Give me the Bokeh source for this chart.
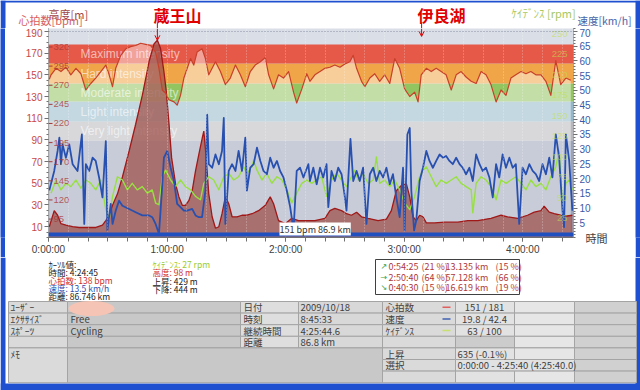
import numpy as np
from bokeh.plotting import figure
from bokeh.models import Range1d, LinearAxis, FixedTicker, Label, Arrow, OpenHead, BoxAnnotation
from bokeh.layouts import column, row
from bokeh.embed import file_html
from bokeh.resources import INLINE
from bokeh.core.properties import value

# ---------------- data ----------------
total_min = 265 + 40 / 60          # 4:25:40

hr_t = [0.4, 1.3, 3.8, 6.3, 8.8, 11.3, 13.9, 16.4, 18.9, 21.4, 23.9, 26.5, 29.0, 30.7, 32.4, 34.0, 36.6, 39.1, 41.6, 44.1,
        46.6, 49.2, 51.7, 54.2, 55.9, 57.6, 59.3, 60.9, 63.5, 65.1, 66.8, 68.5, 70.2, 71.9, 73.5, 75.2, 77.7, 79.4, 81.1, 82.8,
        84.5, 87.0, 89.5, 92.0, 94.6, 97.1, 99.6, 102.1, 104.6, 107.2, 109.7, 111.4, 113.9, 116.4, 118.9, 121.5, 124.0, 125.6,
        128.2, 130.7, 132.3, 134.8, 137.4, 139.9, 142.4, 144.9, 147.5, 150.0, 152.5, 154.2, 155.9, 158.4, 160.1, 162.6, 165.1,
        167.6, 170.1, 172.7, 175.2, 177.7, 180.2, 182.8, 185.3, 187.0, 188.6, 191.2, 193.7, 196.2, 198.7, 201.2, 203.8, 206.3,
        208.8, 211.3, 213.9, 216.4, 218.9, 221.4, 223.9, 226.5, 229.0, 231.5, 234.0, 236.5, 239.1, 241.6, 244.1, 246.6, 249.2,
        251.7, 254.2, 256.7, 259.2, 261.8, 264.3]
hr_bpm = [146, 150, 156, 153, 157, 150, 156, 151, 136, 142, 147, 153, 159, 150, 139, 156, 168, 174, 176, 177,
          179, 178, 177, 171, 156, 136, 133, 127, 125, 122, 131, 147, 156, 165, 159, 171, 174, 165, 150, 156,
          162, 153, 141, 147, 159, 150, 139, 153, 159, 162, 166, 150, 137, 150, 147, 153, 134, 124, 137, 151,
          144, 150, 153, 156, 157, 159, 157, 160, 162, 168, 156, 144, 139, 147, 151, 144, 150, 142, 165, 156,
          137, 130, 134, 125, 150, 156, 153, 156, 153, 150, 136, 150, 153, 148, 144, 142, 153, 150, 141, 125,
          136, 131, 147, 150, 153, 151, 153, 150, 150, 144, 131, 163, 141, 147, 145]

alt_t = [0.4, 2.9, 4.6, 6.3, 8.8, 12.2, 15.5, 18.9, 24.0, 27.3, 29.0, 30.7, 32.4, 34.9, 37.4, 40.8, 44.1, 47.5, 50.9, 53.4,
         55.1, 56.7, 58.4, 59.6, 61.0, 62.3, 64.3, 66.0, 67.7, 69.3, 71.0, 72.7, 74.4, 76.1, 77.8, 78.6, 79.8, 81.1, 82.8,
         84.5, 86.2, 87.8, 89.5, 91.2, 92.9, 95.4, 97.9, 100.4, 103.0, 106.3, 109.7, 112.2, 113.9, 116.4, 119.8, 123.1,
         126.5, 129.9, 134.8, 139.9, 142.4, 144.9, 148.3, 150.8, 153.3, 155.9, 158.4, 161.7, 166.8, 171.0, 173.5, 176.0,
         178.6, 181.1, 182.8, 184.4, 186.1, 187.8, 189.5, 191.2, 195.4, 200.4, 207.1, 212.2, 217.2, 223.9, 229.0, 232.3,
         237.4, 242.4, 245.8, 249.2, 250.8, 253.4, 255.9, 259.2, 262.6, 265.1]
alt_m = [85, 106, 100, 89, 87, 85, 84, 84, 84, 87, 93, 100, 113, 128, 150, 184, 219, 257, 301, 324,
         329, 318, 288, 262, 219, 175, 141, 124, 113, 113, 119, 132, 158, 180, 201, 210, 175, 128, 98, 83,
         85, 102, 124, 115, 98, 98, 100, 100, 102, 106, 113, 124, 115, 93, 89, 96, 93, 93, 93, 96,
         106, 109, 106, 102, 100, 104, 98, 96, 93, 95, 106, 132, 139, 141, 124, 98, 93, 100, 98, 90,
         90, 91, 91, 93, 93, 96, 100, 98, 96, 100, 104, 106, 112, 104, 102, 100, 99, 100]

spd_t = [0.4, 2.9, 4.6, 5.5, 6.3, 7.1, 8.8, 10.5, 12.2, 14.7, 16.9, 18.1, 18.9, 20.6, 22.3, 23.9, 25.6, 27.3, 29.0, 29.8,
         31.5, 32.4, 34.0, 35.7, 37.4, 40.8, 44.1, 47.5, 50.9, 52.5, 54.2, 55.9, 56.7, 57.6, 58.4, 60.1, 61.8, 63.5, 65.1, 66.8,
         68.5, 70.2, 72.7, 74.4, 76.1, 77.7, 79.4, 80.3, 81.1, 82.8, 84.5, 86.2, 87.8, 88.7, 89.5, 91.2, 92.9, 94.6, 96.2, 97.9,
         99.6, 100.4, 102.1, 103.8, 105.5, 107.2, 108.8, 110.5, 112.2, 113.9, 115.6, 117.2, 118.9, 120.6, 122.3, 124.0, 125.6,
         127.3, 129.0, 131.5, 132.3, 134.0, 135.7, 137.4, 139.0, 140.7, 141.6, 143.2, 144.9, 146.6, 148.3, 150.0, 150.8, 152.8,
         154.2, 155.9, 157.5, 159.2, 160.9, 162.6, 164.3, 165.9, 167.6, 169.3, 171.0, 172.7, 174.3, 176.0, 177.7, 179.4, 180.2,
         181.6, 182.8, 183.6, 185.0, 186.1, 187.8, 189.5, 191.2, 192.8, 194.5, 196.2, 197.9, 199.6, 201.2, 202.9, 204.6, 206.3,
         208.0, 209.6, 211.3, 213.0, 214.7, 216.4, 218.1, 219.7, 221.4, 223.1, 224.8, 226.5, 228.1, 229.8, 231.5, 233.2, 234.9,
         236.5, 238.2, 239.9, 241.6, 243.3, 245.0, 246.6, 248.3, 250.0, 251.7, 253.4, 255.0, 256.7, 258.4, 260.1, 260.9, 261.8,
         263.5, 265.1]
spd_kmh = [16, 22.6, 29.4, 33.9, 24.9, 31.6, 27.1, 31.6, 24.9, 22.6, 35, 4.6, 24.9, 22.6, 27.1, 26, 20.4, 13.6, 32.7, 2.4,
           11.4, 4.6, 9.1, 12.5, 10.8, 9.7, 8.6, 7.5, 7.5, 6.9, 4.6, 1.3, 9.1, 18.1, 27.1, 29.4, 23.7, 19.2, 11.4, 10.3,
           9.1, 9.1, 9.7, 7.5, 6.9, 6.9, 15.9, 41.7, 24.9, 23.7, 28.2, 24.9, 29.4, 40.6, 4.6, 22.6, 24.9, 22.6, 29.4, 22.6,
           33.9, 15.9, 23.7, 24.9, 30.5, 26, 22.6, 21.5, 27.1, 23.7, 26, 22.6, 20.4, 15.9, 10.3, 2.4, 22.6, 23.7, 20.4, 24.9,
           19.2, 23.7, 18.1, 23.7, 20.4, 24.9, 10.3, 22.6, 19.2, 23.7, 21.5, 13.6, 9.1, 33.5, 19.2, 22.6, 19.2, 23.7, 4.6, 21.5,
           23.7, 19.2, 22.6, 20.4, 23.7, 18.1, 21.5, 13.6, 6.9, 23.7, 2.4, 35, 37.2, 15.9, 2.4, 5.8, 19.2, 23.7, 29.4, 26,
           23.7, 26, 28.2, 27.1, 27.7, 26, 24.9, 27.1, 24.9, 23.7, 21.5, 23.7, 19.2, 28.2, 24.9, 22.6, 23.7, 20.4, 13.6, 24.9,
           20.4, 28.2, 23.7, 27.1, 23.7, 24.9, 4.6, 23.7, 21.5, 24.9, 22.6, 21.5, 19.2, 24.9, 21.5, 27.1, 20.4, 35, 27.1, 9.1,
           3.5, 35, 26, 9.1]

cad_t = [1.3, 3.8, 6.3, 8.8, 11.3, 13.9, 16.4, 18.9, 21.4, 23.9, 26.5, 29.0, 30.7, 32.4, 34.9, 37.4, 39.9, 42.4, 44.9, 47.5,
         50.0, 52.5, 54.2, 55.9, 57.6, 59.3, 61.8, 64.3, 66.8, 69.3, 71.9, 74.4, 76.9, 78.6, 81.1, 83.6, 86.2, 88.7, 91.2, 93.7,
         96.2, 98.8, 100.4, 103.0, 103.8, 105.5, 108.0, 110.5, 113.0, 115.6, 118.1, 120.6, 123.1, 125.6, 128.2, 130.7, 133.2,
         135.7, 138.2, 140.7, 143.2, 145.8, 148.3, 150.8, 153.3, 155.0, 156.7, 159.2, 161.7, 164.3, 165.9, 167.6, 170.1, 172.7,
         175.2, 177.7, 180.2, 182.8, 185.3, 187.8, 189.5, 191.2, 193.7, 196.2, 198.7, 201.2, 203.8, 206.3, 208.8, 211.3, 213.9,
         214.7, 216.4, 218.9, 221.4, 223.9, 226.5, 229.0, 231.5, 234.0, 236.5, 239.1, 241.6, 244.1, 246.6, 249.2, 251.7, 254.2,
         256.7, 258.4, 260.1, 261.8, 263.5, 265.1]
cad_rpm = [54, 70, 58, 66, 62, 70, 60, 70, 66, 58, 70, 34, 22, 50, 74, 70, 58, 66, 58, 62,
           54, 58, 42, 40, 74, 82, 70, 62, 70, 62, 58, 50, 46, 66, 74, 70, 58, 74, 78, 70,
           74, 86, 78, 86, 94, 82, 70, 78, 66, 74, 70, 58, 42, 54, 66, 70, 66, 70, 74, 50,
           70, 78, 70, 62, 74, 82, 70, 78, 66, 70, 98, 66, 70, 62, 70, 58, 42, 34, 50, 74,
           82, 86, 74, 62, 70, 66, 70, 74, 66, 62, 58, 30, 66, 74, 70, 62, 46, 70, 66, 70,
           74, 66, 58, 70, 62, 66, 58, 74, 86, 106, 42, 66, 70, 58]

hr_ticks = list(range(10, 191, 20))
spd_ticks = list(range(5, 71, 5))
alt_ticks = list(range(95, 321, 25))
cad_ticks = list(range(25, 251, 25))
time_ticks = [0, 60, 120, 180, 240]
time_labels = ["0:00:00", "1:00:00", "2:00:00", "3:00:00", "4:00:00"]

zone_bounds = [89, 107, 125, 142, 160, 178]
zone_names = ["Very light intensity", "Light intensity", "Moderate intensity", "Hard intensity", "Maximum intensity"]
band_colors = ["#9CA3B8", "#B8B8BC", "#94B8CA", "#92C460", "#F0A548", "#E65848"]

landmarks = ["蔵王山", "伊良湖"]
irago_t = 188.8

cursor_left = [("ｶｰｿﾙ値:", "#202020"), ("時間: 4:24:45", "#202020"), ("心拍数: 138 bpm", "#D03030"),
               ("速度: 13.5 km/h", "#3050B0"), ("距離: 86.746 km", "#202020")]
cursor_right = [("ｹｲﾃﾞﾝｽ: 27 rpm", "#98CC30"), ("高度: 98 m", "#D03030"), ("上昇: 429 m", "#202020"),
                ("下降: 444 m", "#202020")]
split_arrows = ["↗", "→", "↘"]
split_times = ["0:54:25", "2:50:40", "0:40:30"]
split_tpct = ["(21 %)", "(64 %)", "(15 %)"]
split_dist = ["13.135 km", "57.128 km", "16.619 km"]
split_dpct = ["(15 %)", "(66 %)", "(19 %)"]

left_labels = ["ﾕｰｻﾞｰ", "ｴｸｻｻｲｽﾞ", "ｽﾎﾟｰﾂ", ""]
left_values = ["", "Free", "Cycling", ""]
mid_labels = ["日付", "時刻", "継続時間", "距離"]
mid_values = ["2009/10/18", "8:45:33", "4:25:44.6", "86.8 km"]
right_labels = ["心拍数", "速度", "ｹｲﾃﾞﾝｽ", "", "上昇", "選択"]
right_values = ["151 / 181", "19.8 / 42.4", "63 / 100", "", "635 (-0.1%)", "0:00:00 - 4:25:40 (4:25:40.0)"]
legend_colors = ["#E06060", "#4060B0", "#C8E070"]

JP = "Noto Sans CJK JP"
LAT = "Liberation Sans"
BLUE = "#1E50D0"

# geometry of the chart frame on the page
FL, FR, FT, FB = 48, 573, 28, 239
MB = 257   # bottom of the chart figure


def page_x(t):
    return FL + t * (FR - FL) / total_min


def deco(w, h, y0, y1):
    f = figure(width=w, height=h, x_range=Range1d(0, w), y_range=Range1d(y1, y0), output_backend="svg",
               toolbar_location=None, min_border=0, x_axis_type=None, y_axis_type=None)
    f.grid.visible = False
    f.outline_line_color = None
    f.background_fill_color = "white"
    f.border_fill_color = "white"
    return f


def txt(f, x, y, s, color, size="9px", align="left", bold=False, font=JP):
    f.text(x=[x], y=[y], text=[s], text_color=color, text_font_size=size, text_align=align,
           text_baseline="middle", text_font=value(font), text_font_style="bold" if bold else "normal")


# ---------------- top strip ----------------
T = deco(640, FT, 0, FT)
T.quad(left=[0, 0, 635], right=[640, 5, 640], top=[0, 0, 0], bottom=[2, FT, FT], fill_color=BLUE, line_color=None)
txt(T, 48, 13, "高度[m]", "#A04848", size="11px")
txt(T, 18, 19.5, "心拍数[bpm]", "#D86060", size="11px")
txt(T, 511, 12.5, "ｹｲﾃﾞﾝｽ [rpm]", "#A8C860", size="11px")
txt(T, 577, 19.5, "速度[km/h]", "#4A64A8", size="10.5px")
t_peak = alt_t[int(np.argmax(alt_m))]
txt(T, 177, 14, landmarks[0], "#E00000", size="16px", align="center", bold=True)
txt(T, 441, 14, landmarks[1], "#E00000", size="16px", align="center", bold=True)
T.segment(x0=[page_x(t_peak), page_x(irago_t)], x1=[page_x(t_peak), page_x(irago_t)], y0=[22, 22], y1=[FT, FT],
          line_color="#E00000", line_width=1)

# ---------------- main chart ----------------
M = figure(width=630, height=MB - FT, x_range=Range1d(0, total_min), y_range=Range1d(0, 192.7),
           output_backend="svg", toolbar_location=None,
           min_border_left=FL - 5, min_border_right=635 - FR, min_border_top=0, min_border_bottom=MB - FB)
M.extra_y_ranges = {"spd": Range1d(0, 71.0), "alt": Range1d(70.9, 344.2), "cad": Range1d(0, 254.5)}
M.background_fill_color = "#D9DEE7"
M.border_fill_color = "white"
M.outline_line_color = None

bottoms = [0] + zone_bounds[:-1]
M.hstrip(y0=bottoms, y1=zone_bounds, fill_color=band_colors, line_color=None, level="underlay")

M.xgrid.ticker = FixedTicker(ticks=list(range(0, 266, 10)))
M.xgrid.grid_line_color = "white"
M.xgrid.grid_line_alpha = 0.45
M.xgrid.grid_line_dash = "1 2"
M.xgrid.level = "glyph"
M.ygrid.ticker = FixedTicker(ticks=[190])
M.ygrid.grid_line_color = "#8890A0"
M.ygrid.grid_line_dash = "1 2"
M.ygrid.level = "glyph"

M.varea(x=hr_t, y1=0, y2=hr_bpm, fill_color="white", fill_alpha=0.45)

mids = [(a + b) / 2 for a, b in zip(zone_bounds[:-1], zone_bounds[1:])]
M.text(x=[0] * len(mids), y=mids, text=zone_names, x_offset=32, text_color="white", text_alpha=0.6,
       text_font_size="12px", text_baseline="middle", text_font=value(LAT))

M.varea(x=alt_t, y1=0, y2=alt_m, y_range_name="alt", fill_color="#9D514B", fill_alpha=0.75)
M.line(alt_t, alt_m, y_range_name="alt", line_color="#A01818", line_width=1.3)
M.line(hr_t, hr_bpm, line_color="#C8402A", line_width=1.2, line_join="round")
M.line(cad_t, cad_rpm, y_range_name="cad", line_color="#98E040", line_width=1.4, line_join="round")
M.line(spd_t, spd_kmh, y_range_name="spd", line_color="#2850B0", line_width=1.8, line_join="round")

M.text(x=[0] * len(alt_ticks), y=alt_ticks, text=[str(v) for v in alt_ticks], x_offset=5, y_range_name="alt",
       text_color="#A83838", text_alpha=0.8, text_font_size="9.5px", text_baseline="middle", text_font=value(LAT))
M.ray(x=[0] * len(alt_ticks), y=alt_ticks, length=4, length_units="screen", angle=0, y_range_name="alt",
      line_color="#A83838", line_width=1)
M.text(x=[total_min] * len(cad_ticks), y=cad_ticks, text=[str(v) for v in cad_ticks], x_offset=-6, y_offset=1.5,
       y_range_name="cad", text_align="right", text_color="#C0E050", text_alpha=0.6, text_font_size="9.5px",
       text_baseline="middle", text_font=value(LAT))

yax = M.yaxis[0]
yax.ticker = FixedTicker(ticks=hr_ticks, minor_ticks=list(range(0, 193, 5)))
xax = M.xaxis[0]
xax.ticker = FixedTicker(ticks=time_ticks, minor_ticks=list(range(0, 266, 10)))
xax.major_label_overrides = {k: v for k, v in zip(time_ticks, time_labels)}
rax = LinearAxis(y_range_name="spd", ticker=FixedTicker(ticks=spd_ticks, minor_ticks=list(range(0, 72, 1))))
M.add_layout(rax, "right")

for ax, col in ((yax, "#C84848"), (rax, "#3A5AA8"), (xax, "#404040")):
    ax.major_label_text_color = col
    ax.major_label_text_font_size = "10px"
    ax.major_label_text_font = LAT
    ax.axis_line_color = "#707070"
    ax.major_tick_line_color = "#707070"
    ax.minor_tick_line_color = "#707070"
    ax.major_tick_in = 0
    ax.minor_tick_in = 0
    ax.major_tick_out = 4
    ax.minor_tick_out = 2
    ax.major_label_standoff = 2
yax.axis_line_dash = "1 1"
rax.axis_line_dash = "1 1"
xax.minor_tick_out = 4
xax.major_label_standoff = 2

# axis name for time, at the bottom right of the chart
tax = LinearAxis(y_range_name="spd", ticker=FixedTicker(ticks=[0]), major_label_overrides={0: "時間"})
tax.axis_line_color = None
tax.major_tick_line_color = None
tax.minor_tick_line_color = None
tax.major_tick_out = 0
tax.major_label_standoff = -8
tax.major_label_text_font = JP
tax.major_label_text_font_size = "11px"
tax.major_label_text_color = "#404040"
M.add_layout(tax, "right")

M.add_layout(BoxAnnotation(bottom=1, top=5, bottom_units="screen", top_units="screen",
                           fill_color="#2050C0", fill_alpha=1, line_color=None))
M.add_layout(Label(x=279 - FL, y=FB - 230.5, x_units="screen", y_units="screen", text="151 bpm 86.9 km",
                   text_color="#303030", text_font_size="9px", text_baseline="middle", text_font=JP,
                   background_fill_color="white"))
M.add_layout(Arrow(end=OpenHead(size=5, line_color="#E00000", line_width=1), x_start=t_peak, y_start=192.7,
                   x_end=t_peak, y_end=181.8, line_color="#E00000", line_width=1))
M.add_layout(Arrow(end=OpenHead(size=5, line_color="#E00000", line_width=1), x_start=irago_t, y_start=192.7,
                   x_end=irago_t, y_end=185.4, line_color="#E00000", line_width=1))

Ls = deco(5, MB - FT, FT, MB)
Ls.background_fill_color = BLUE
Ls.border_fill_color = BLUE
Rs = deco(5, MB - FT, FT, MB)
Rs.background_fill_color = BLUE
Rs.border_fill_color = BLUE

# ---------------- bottom: cursor info, split box, table ----------------
B = deco(640, 390 - MB, MB, 390)
B.quad(left=[0, 635, 0], right=[5, 640, 640], top=[MB, MB, 383], bottom=[390, 390, 390],
       fill_color=BLUE, line_color=None)
for i, (t, c) in enumerate(cursor_left):
    txt(B, 48, 263 + i * 8.1, t, c, size="8.5px")
for i, (t, c) in enumerate(cursor_right):
    txt(B, 152, 263.5 + i * 8.3, t, c, size="8.5px")

B.quad(left=[375], right=[519], top=[259], bottom=[294], fill_color="white", line_color="#404040", line_width=1)
for i in range(3):
    yy = 266 + i * 10.6
    txt(B, 380, yy, split_arrows[i], "#40A040", size="8px", font="DejaVu Sans")
    txt(B, 388, yy, split_times[i], "#B03838")
    txt(B, 421, yy, split_tpct[i], "#B03838")
    txt(B, 445, yy, split_dist[i], "#B03838")
    txt(B, 495, yy, split_dpct[i], "#B03838")

cols = [8, 67, 240, 298, 382, 455, 514, 574, 636]
rows = [301, 312.6, 324.2, 335.8, 347.4, 359, 370.6, 382.2]
L, R, Tp, Bt, C = [], [], [], [], []


def cell(c0, c1, r0, r1, color):
    L.append(cols[c0]); R.append(cols[c1]); Tp.append(rows[r0]); Bt.append(rows[r1]); C.append(color)


for r in range(4):
    cell(0, 1, r, r + 1, "#DADADA")
    cell(1, 2, r, r + 1, "#C8C8C8")
    cell(2, 3, r, r + 1, "#DEDEDE")
    cell(3, 4, r, r + 1, "#D8D8D8")
cell(0, 1, 4, 7, "#DADADA")
cell(1, 4, 4, 7, "#C8C8C8")
for r in range(7):
    cell(4, 5, r, r + 1, "#DADADA")
    if r == 5:
        cell(5, 7, r, r + 1, "#E2E2E2")
    else:
        cell(5, 6, r, r + 1, "#E2E2E2" if r != 3 else "#CCCCCC")
        cell(6, 7, r, r + 1, "#E6E6E6")
    cell(7, 8, r, r + 1, "#D0D0D0")
B.quad(left=L, right=R, top=Tp, bottom=Bt, fill_color=C, line_color="#A4A4A4", line_width=1)
B.ellipse(x=[91], y=[308], width=46, height=15, fill_color="#F6C4B4", line_color=None)

rc = [(a + b) / 2 for a, b in zip(rows[:-1], rows[1:])]
for i in range(4):
    txt(B, 10, rc[i], left_labels[i], "#404040", size="9.5px")
    txt(B, 70, rc[i], left_values[i], "#404040", size="9.5px")
    txt(B, 243, rc[i], mid_labels[i], "#404040", size="9.5px")
    txt(B, 300, rc[i], mid_values[i], "#404040", size="9.5px")
txt(B, 10, rc[4], "ﾒﾓ", "#404040", size="9.5px")
for i in range(6):
    txt(B, 385, rc[i], right_labels[i], "#404040", size="9.5px")
for i in range(3):
    txt(B, 484, rc[i], right_values[i], "#404040", size="9.5px", align="center")
for i in (4, 5):
    txt(B, 457, rc[i], right_values[i], "#404040", size="9.5px")
B.segment(x0=[442] * 3, x1=[450] * 3, y0=rc[:3], y1=rc[:3], line_color=legend_colors, line_width=1.5)

layout = column(T, row(Ls, M, Rs, spacing=0), B, spacing=0)
open("out.html", "w").write(file_html(layout, INLINE))
